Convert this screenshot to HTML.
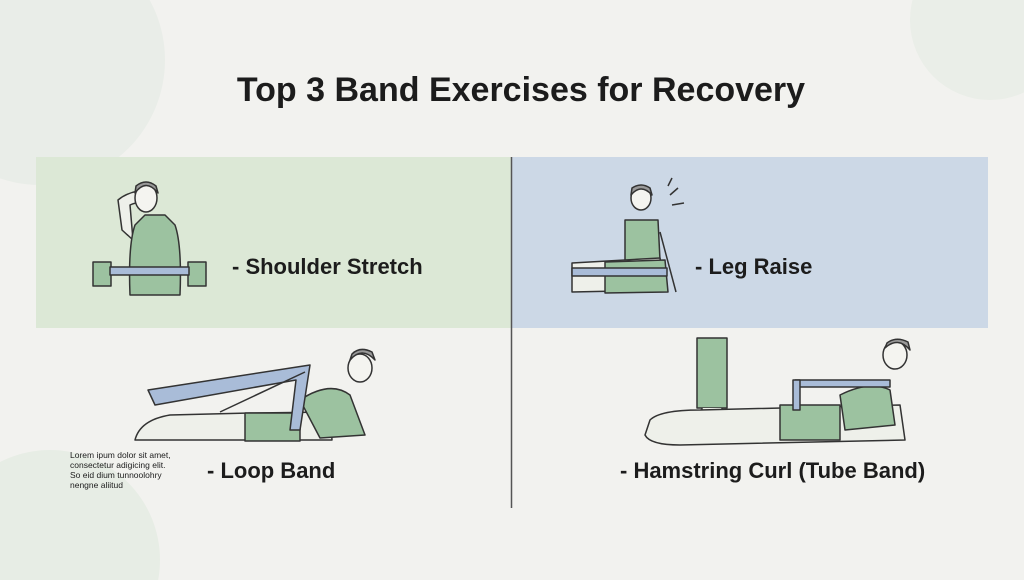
<!DOCTYPE html>
<html><head><meta charset="utf-8"><style>
html,body{margin:0;padding:0;width:1024px;height:580px;overflow:hidden;background:#f2f2ef;}
svg{display:block;overflow:hidden}
text{font-family:"Liberation Sans",sans-serif;fill:#1c1c1c}
</style></head><body>
<svg width="1024" height="580" viewBox="0 0 1024 580">
<circle cx="40" cy="60" r="125" fill="#e9ede8"/>
<circle cx="990" cy="20" r="80" fill="#eaeee8"/>
<circle cx="50" cy="560" r="110" fill="#e7ede5"/>
<rect x="36" y="157" width="475" height="171" fill="#dce8d6"/>
<rect x="512" y="157" width="476" height="171" fill="#ccd8e6"/>
<line x1="511.5" y1="157" x2="511.5" y2="508" stroke="#555" stroke-width="1.5"/>
<text x="521" y="101" font-size="34" font-weight="bold" text-anchor="middle">Top 3 Band Exercises for Recovery</text>

<g stroke="#333" stroke-width="1.5" stroke-linejoin="round">
<path d="M122 230 L118 200 Q130 190 150 190 L155 205 Q140 200 130 205 L133 240Z" fill="#eef0ea"/>
<path d="M135 225 Q128 245 130 295 L180 295 Q182 245 175 225 L165 215 L145 215Z" fill="#9cc2a0"/>
<ellipse cx="146" cy="198" rx="11" ry="14" fill="#f4f4f0"/>
<path d="M135 193 Q146 178 158 193 L156 186 Q146 178 136 186Z" fill="#999"/>
<rect x="93" y="262" width="18" height="24" fill="#9cc2a0"/>
<rect x="188" y="262" width="18" height="24" fill="#9cc2a0"/>
<rect x="110" y="267" width="79" height="8" fill="#a9bcd8"/>
<ellipse cx="641" cy="198" rx="10" ry="12" fill="#f4f4f0"/>
<path d="M631 195 Q641 183 652 195 L650 188 Q641 182 632 188Z" fill="#999"/>
<path d="M625 220 L658 220 L660 260 L625 262Z" fill="#9cc2a0"/>
<path d="M572 263 L660 258 L665 290 L572 292Z" fill="#eef0ea"/>
<path d="M605 262 L665 260 L668 292 L605 293Z" fill="#9cc2a0"/>
<path d="M660 232 L676 292" fill="none"/>
<rect x="572" y="268" width="95" height="8" fill="#a9bcd8"/>
<path d="M670 195 L678 188 M672 205 L684 203 M668 186 L672 178" fill="none"/>
<path d="M135 440 Q140 420 170 415 L250 413 L330 412 L332 440 L150 440Z" fill="#eef0ea"/>
<rect x="245" y="413" width="55" height="28" fill="#9cc2a0"/>
<path d="M300 400 Q330 380 350 395 L365 435 L320 438Z" fill="#9cc2a0"/>
<ellipse cx="360" cy="368" rx="12" ry="14" fill="#f4f4f0"/>
<path d="M350 360 Q362 346 375 360 L372 352 Q360 346 352 354Z" fill="#999"/>
<path d="M148 390 L310 365 L300 430 L290 430 L296 380 L155 405Z" fill="#a9bcd8"/>
<path d="M220 412 L305 372" fill="none"/>
<rect x="697" y="338" width="30" height="70" fill="#9cc2a0"/>
<path d="M702 408 L700 440 L722 440 L722 408" fill="#eef0ea"/>
<path d="M650 420 Q660 410 700 410 L900 405 L905 440 L680 445 Q650 445 645 435Z" fill="#eef0ea"/>
<rect x="780" y="405" width="60" height="35" fill="#9cc2a0"/>
<path d="M840 395 Q870 380 890 390 L895 425 L845 430Z" fill="#9cc2a0"/>
<ellipse cx="895" cy="355" rx="12" ry="14" fill="#f4f4f0"/>
<path d="M885 348 Q898 336 910 350 L908 342 Q896 336 887 343Z" fill="#999"/>
<rect x="795" y="380" width="95" height="7" fill="#a9bcd8"/>
<rect x="793" y="380" width="7" height="30" fill="#a9bcd8"/>
</g>

<text x="232" y="274" font-size="22" font-weight="bold">- Shoulder Stretch</text>
<text x="695" y="274" font-size="22" font-weight="bold">- Leg Raise</text>
<text x="207" y="478" font-size="22" font-weight="bold">- Loop Band</text>
<text x="620" y="478" font-size="22" font-weight="bold">- Hamstring Curl (Tube Band)</text>
<g font-size="8.5" fill="#333">
<text x="70" y="458">Lorem ipum dolor sit amet,</text>
<text x="70" y="468">consectetur adigicing elit.</text>
<text x="70" y="478">So eid dium tunnoolohry</text>
<text x="70" y="488">nengne aliitud</text>
</g>
</svg>
</body></html>
